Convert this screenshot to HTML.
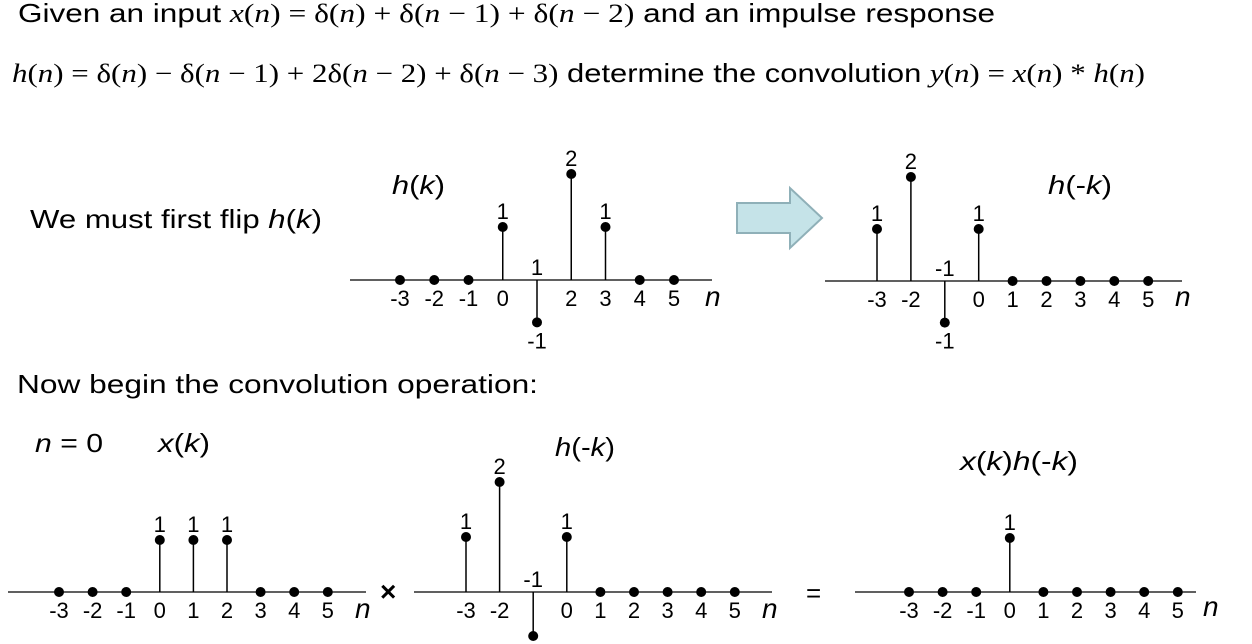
<!DOCTYPE html>
<html><head><meta charset="utf-8"><style>
body{margin:0;width:1252px;height:644px;background:#fff;overflow:hidden;position:relative;font-family:"Liberation Sans",sans-serif;color:#000}
.t{position:absolute;white-space:nowrap;font-size:26px;transform-origin:0 0}
.m{font-family:"Liberation Serif",serif;font-style:italic}
.mr{font-family:"Liberation Serif",serif;font-style:normal}
svg{position:absolute;left:0;top:0}
</style></head><body>
<div class="t" data-w="977" style="left:18px;top:-2px">Given an input <span class="m">x</span><span class="mr">(</span><span class="m">n</span><span class="mr">) = δ(</span><span class="m">n</span><span class="mr">) + δ(</span><span class="m">n</span><span class="mr"> − 1) + δ(</span><span class="m">n</span><span class="mr"> − 2)</span> and an impulse response</div>
<div class="t" data-w="1133" style="left:12px;top:58px"><span class="m">h</span><span class="mr">(</span><span class="m">n</span><span class="mr">) = δ(</span><span class="m">n</span><span class="mr">) − δ(</span><span class="m">n</span><span class="mr"> − 1) + 2δ(</span><span class="m">n</span><span class="mr"> − 2) + δ(</span><span class="m">n</span><span class="mr"> − 3)</span> determine the convolution <span class="m">y</span><span class="mr">(</span><span class="m">n</span><span class="mr">) = </span><span class="m">x</span><span class="mr">(</span><span class="m">n</span><span class="mr">) * </span><span class="m">h</span><span class="mr">(</span><span class="m">n</span><span class="mr">)</span></div>
<div class="t" data-w="292" style="left:30px;top:204px">We must first flip <i>h</i>(<i>k</i>)</div>
<div class="t" data-w="521" style="left:17px;top:369px">Now begin the convolution operation:</div>
<div class="t" data-w="68" style="left:35px;top:428px"><i>n</i> = 0</div>
<div class="t" data-w="53" style="left:392px;top:170px"><i>h</i>(<i>k</i>)</div>
<div class="t" data-w="64" style="left:1048px;top:170px"><i>h</i>(-<i>k</i>)</div>
<div class="t" data-w="52" style="left:158px;top:428px"><i>x</i>(<i>k</i>)</div>
<div class="t" data-w="60" style="left:555px;top:432px"><i>h</i>(-<i>k</i>)</div>
<div class="t" data-w="118" style="left:960px;top:446px"><i>x</i>(<i>k</i>)<i>h</i>(-<i>k</i>)</div>
<div class="t" style="left:380px;top:576px;font-weight:bold;font-size:28px">×</div>
<div class="t" style="left:806px;top:578px;font-size:26px">=</div>
<svg width="1252" height="644" id="s">
<polygon points="737,203 790,203 790,188 822,218 790,248 790,233 737,233" fill="#c5e3e8" stroke="#8fb0b8" stroke-width="2"/>
</svg>
<script>
const nVals=[-3,-2,-1,0,1,2,3,4,5];
const hk=[0,0,0,1,-1,2,1,0,0];
const hNeg=[1,2,-1,1,0,0,0,0,0];
const xk=[0,0,0,1,1,1,0,0,0];
const prod=[0,0,0,1,0,0,0,0,0];
const charts=[
 {name:'hk-chart',vals:hk,x0:400,step:34.25,y:280,unit:53,ax1:350,ax2:712,ny:306,nl:705},
 {name:'h-minus-k-chart',vals:hNeg,x0:877,step:33.9,y:281,unit:52,ax1:825,ax2:1182,ny:306,nl:1175},
 {name:'xk-chart',vals:xk,x0:59,step:33.6,y:592,unit:52,ax1:8,ax2:366,ny:618,nl:355},
 {name:'h-minus-k-chart-2',vals:hNeg,x0:466,step:33.6,y:592,unit:55,ax1:414,ax2:772,ny:618,nl:762},
 {name:'product-chart',vals:prod,x0:909,step:33.6,y:592,unit:54,ax1:855,ax2:1196,ny:616,nl:1203}
];
const s=document.getElementById('s');
const NS='http://www.w3.org/2000/svg';
function mk(t,a,p){const e=document.createElementNS(NS,t);for(const k in a)e.setAttribute(k,a[k]);(p||s).appendChild(e);return e;}
charts.forEach(c=>{
 const g=mk('g',{});
 
 
 const xs=n=>c.x0+(n+3)*c.step;
 const ys=v=>c.y-v*c.unit*(v<0?0.8:1);
 const ax=mk('line',{x1:c.ax1,x2:c.ax2,y1:c.y,y2:c.y,stroke:'#000','stroke-width':1.3},g);
 
 
 const nl=mk('text',{x:c.nl,y:c.ny,'font-size':28,'font-style':'italic','font-family':'Liberation Sans'},g);
 nl.textContent='n';
 nVals.forEach((n,i)=>{
  const v=c.vals[i],x=xs(n),y=ys(v);
  if(v!==0){const st=mk('line',{x1:x,x2:x,y1:c.y,y2:y,stroke:'#000','stroke-width':1.5},g);
   
   
   const vl=mk('text',{x:x,y:v>0?y-8:(y+26),'text-anchor':'middle','font-size':22,'font-family':'Liberation Sans'},g);
   vl.textContent=String(v);
  }
  const d=mk('circle',{cx:x,cy:y,r:5,fill:'#000'},g);
  
  
  const tl=mk('text',{x:x,y:v>=0?c.y+26:c.y-5,'text-anchor':'middle','font-size':22,'font-family':'Liberation Sans'},g);
  tl.textContent=String(n);
 });
});
document.querySelectorAll('.t[data-w]').forEach(el=>{
 const w=el.getBoundingClientRect().width;
 const tw=+el.getAttribute('data-w');
 el.style.transform='scaleX('+(tw/w)+')';
});
</script>
</body></html>
